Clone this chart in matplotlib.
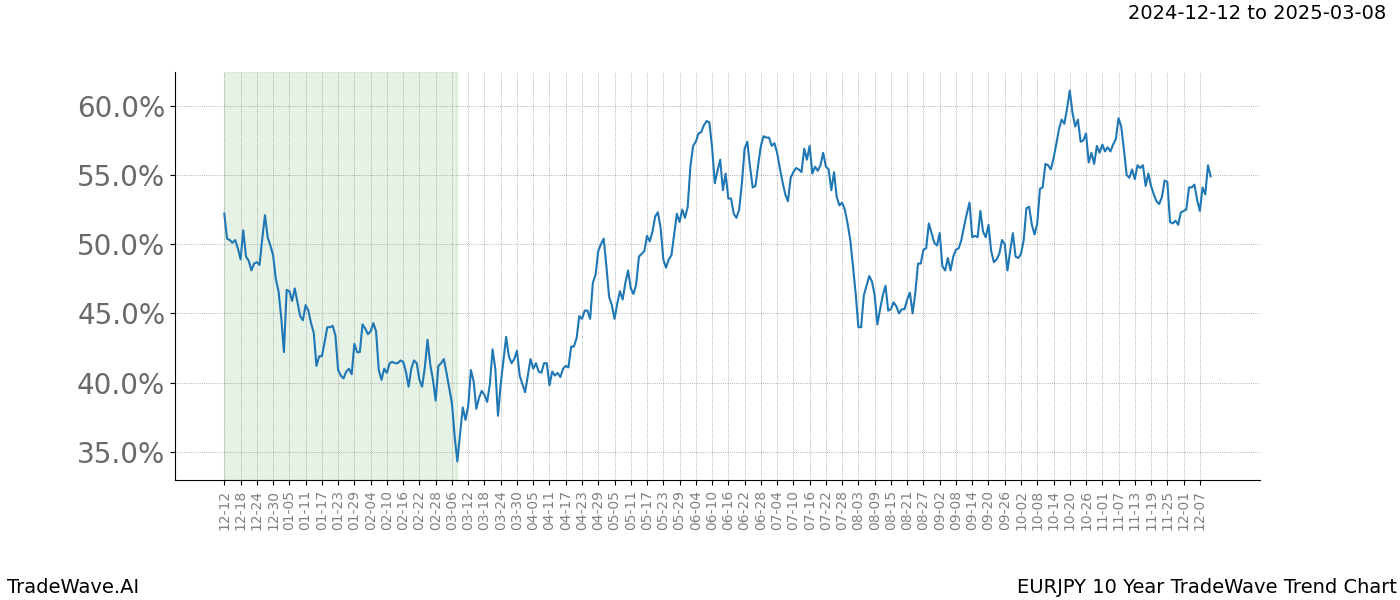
import numpy as np
import pandas as pd
import matplotlib
matplotlib.use("Agg")
import matplotlib.pyplot as plt
from matplotlib.ticker import FuncFormatter

# daily trend values (%), starting 2024-12-12
values = [
    52.2, 50.4, 50.3, 50.1, 50.3, 49.7, 48.9, 51.0, 49.1, 48.8,
    48.1, 48.6, 48.7, 48.5, 50.4, 52.1, 50.5, 49.9, 49.2, 47.5,
    46.6, 44.7, 42.2, 46.7, 46.6, 45.9, 46.8, 45.8, 44.8, 44.5,
    45.6, 45.2, 44.3, 43.6, 41.2, 41.9, 41.9, 42.9, 44.0, 44.0,
    44.1, 43.4, 40.9, 40.5, 40.3, 40.8, 41.0, 40.6, 42.8, 42.2,
    42.2, 44.2, 43.9, 43.5, 43.7, 44.3, 43.7, 40.9, 40.2, 41.0,
    40.7, 41.4, 41.5, 41.4, 41.4, 41.6, 41.5, 40.8, 39.7, 41.0,
    41.6, 41.4, 40.2, 39.7, 41.1, 43.1, 41.3, 40.2, 38.7, 41.2,
    41.4, 41.7, 40.7, 39.6, 38.5, 36.1, 34.3, 36.3, 38.2, 37.3,
    38.3, 40.9, 40.1, 38.1, 38.9, 39.4, 39.1, 38.6, 39.9, 42.4,
    41.0, 37.6, 39.9, 41.6, 43.3, 41.9, 41.4, 41.7, 42.3, 40.5,
    39.9, 39.3, 40.5, 41.7, 41.0, 41.4, 40.8, 40.7, 41.4, 41.4,
    39.8, 40.8, 40.5, 40.7, 40.4, 41.0, 41.2, 41.1, 42.6, 42.6,
    43.2, 44.8, 44.6, 45.2, 45.2, 44.6, 47.2, 47.8, 49.5, 50.0,
    50.4, 48.4, 46.2, 45.6, 44.6, 45.7, 46.6, 46.0, 47.2, 48.1,
    46.8, 46.4, 47.1, 49.1, 49.3, 49.5, 50.6, 50.2, 50.9, 52.0,
    52.3, 51.2, 48.9, 48.3, 48.9, 49.2, 50.7, 52.2, 51.6, 52.5,
    51.9, 52.7, 55.6, 57.1, 57.4, 58.0, 58.1, 58.6, 58.9, 58.8,
    57.0, 54.4, 55.3, 56.1, 53.9, 55.1, 53.3, 53.3, 52.2, 51.9,
    52.5, 54.4, 56.9, 57.4, 55.6, 54.1, 54.2, 55.7, 57.1, 57.8,
    57.7, 57.7, 57.1, 57.3, 56.6, 55.5, 54.5, 53.6, 53.1, 54.8,
    55.2, 55.5, 55.4, 55.2, 56.9, 56.1, 57.1, 55.1, 55.6, 55.3,
    55.7, 56.6, 55.6, 55.4, 53.9, 55.2, 53.4, 52.8, 53.0, 52.5,
    51.5, 50.3, 48.4, 46.4, 44.0, 44.0, 46.3, 47.0, 47.7, 47.3,
    46.3, 44.2, 45.3, 46.3, 47.0, 45.2, 45.3, 45.8, 45.5, 45.0,
    45.3, 45.3, 46.0, 46.5, 45.0, 46.5, 48.6, 48.6, 49.6, 49.7,
    51.5, 50.8, 50.1, 49.9, 50.8, 48.4, 48.1, 49.0, 48.1, 49.1,
    49.6, 49.7, 50.3, 51.3, 52.2, 53.0, 50.5, 50.6, 50.5, 52.4,
    50.9, 50.5, 51.4, 49.5, 48.7, 48.9, 49.3, 50.3, 50.0, 48.1,
    49.5, 50.8, 49.1, 49.0, 49.3, 50.3, 52.6, 52.7, 51.4, 50.7,
    51.5, 54.0, 54.1, 55.8, 55.7, 55.4, 56.2, 57.2, 58.3, 59.0,
    58.7, 59.8, 61.1, 59.5, 58.5, 59.0, 57.4, 57.5, 58.0, 55.9,
    56.6, 55.8, 57.1, 56.6, 57.2, 56.7, 57.0, 56.7, 57.2, 57.6,
    59.1, 58.5, 56.8, 55.0, 54.8, 55.4, 54.7, 55.7, 55.5, 55.7,
    54.2, 55.1, 54.2, 53.6, 53.1, 52.9, 53.4, 54.6, 54.5, 51.6,
    51.5, 51.7, 51.4, 52.3, 52.4, 52.5, 54.1, 54.1, 54.3, 53.2,
    52.4, 54.1, 53.6, 55.7, 54.9,
]
start_date = "2024-12-12"
span_start = "2024-12-12"
span_end = "2025-03-08"
title_right = "2024-12-12 to 2025-03-08"
footer_left = "TradeWave.AI"
footer_right = "EURJPY 10 Year TradeWave Trend Chart"

dates = pd.date_range(start_date, periods=len(values), freq="D")

fig = plt.figure(figsize=(14, 6), dpi=100)
ax = fig.add_subplot(111)
fig.subplots_adjust(left=0.125, right=0.9, top=0.88, bottom=0.2)

ax.axvspan(pd.Timestamp(span_start), pd.Timestamp(span_end), color="green", alpha=0.1)
ax.plot(dates, values, color="#1f77b4", linewidth=1.5)

ticks = dates[::6]
ax.set_xticks(ticks)
ax.set_xticklabels([d.strftime("%m-%d") for d in ticks], rotation=90, fontsize=10, color="gray")
ax.yaxis.set_major_formatter(FuncFormatter(lambda v, p: "%.1f%%" % v))
ax.tick_params(axis="y", labelsize=20, labelcolor="dimgray")

ax.grid(True, linestyle=":", color="gray", linewidth=0.6, alpha=0.8)
ax.spines["top"].set_visible(False)
ax.spines["right"].set_visible(False)

fig.text(0.99, 0.993, title_right, ha="right", va="top", fontsize=14)
fig.text(0.005, 0.005, footer_left, ha="left", va="bottom", fontsize=14)
fig.text(0.998, 0.005, footer_right, ha="right", va="bottom", fontsize=14)

fig.savefig("out.png")
